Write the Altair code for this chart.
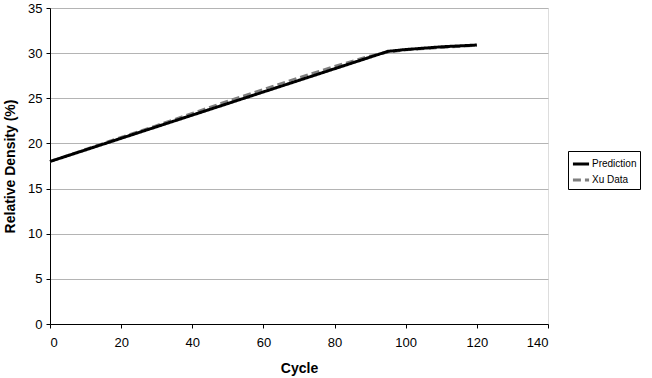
import altair as alt
import pandas as pd

cycles_pred = [0, 95, 100, 105, 110, 120]
pred = [18.0, 30.2, 30.4, 30.55, 30.7, 30.9]

cycles_xu = [0, 10, 20, 30, 40, 50, 60, 70, 80, 90, 95, 100, 110, 120]
xu = [18.0, 19.35, 20.7, 22.0, 23.35, 24.7, 26.0, 27.3, 28.55, 29.7, 30.1, 30.35, 30.6, 30.85]

series = ["Prediction", "Xu Data"]

df_pred = pd.DataFrame({"Cycle": cycles_pred, "RD": pred, "Series": series[0]})
df_xu = pd.DataFrame({"Cycle": cycles_xu, "RD": xu, "Series": series[1]})

FONT = "Liberation Sans"

x = alt.X("Cycle:Q", scale=alt.Scale(domain=[0, 140], nice=False),
          axis=alt.Axis(values=list(range(0, 141, 20)), title="Cycle", grid=False,
                        tickSize=4, tickColor="black", domainColor="black",
                        labelFontSize=13, labelPadding=8, titleFontSize=14,
                        titleFontWeight="bold", titlePadding=12))
y = alt.Y("RD:Q", scale=alt.Scale(domain=[0, 35], nice=False),
          axis=alt.Axis(values=list(range(0, 36, 5)), title="Relative Density (%)",
                        grid=True, gridColor="#b4b4b4", tickSize=4, tickColor="black",
                        domainColor="black", labelFontSize=13, labelPadding=4,
                        titleFontSize=14, titleFontWeight="bold", titlePadding=10))

color = alt.Color("Series:N", scale=alt.Scale(domain=series, range=["black", "#7f7f7f"]),
                  legend=alt.Legend(title=None, orient="none", legendX=518, legendY=143,
                                    symbolType="stroke", symbolSize=260, symbolStrokeWidth=3,
                                    labelFontSize=10, strokeColor="black", padding=3,
                                    rowPadding=0, labelOffset=1))
dash = alt.StrokeDash("Series:N", scale=alt.Scale(domain=series, range=[[1, 0], [8, 4]]),
                      legend=None)

xu_line = alt.Chart(df_xu).mark_line(strokeWidth=2.5).encode(x=x, y=y, color=color, strokeDash=dash)
pred_line = alt.Chart(df_pred).mark_line(strokeWidth=3).encode(x=x, y=y, color=color, strokeDash=dash)

chart = alt.layer(xu_line, pred_line).properties(
    width=498, height=316,
    padding={"left": 50, "top": 8, "right": 104, "bottom": 54},
    autosize=alt.AutoSizeParams(type="none"),
).configure_view(stroke="black", strokeWidth=1).configure(font=FONT)

chart.save("out.html", embed_options={"renderer": "svg", "actions": False})
